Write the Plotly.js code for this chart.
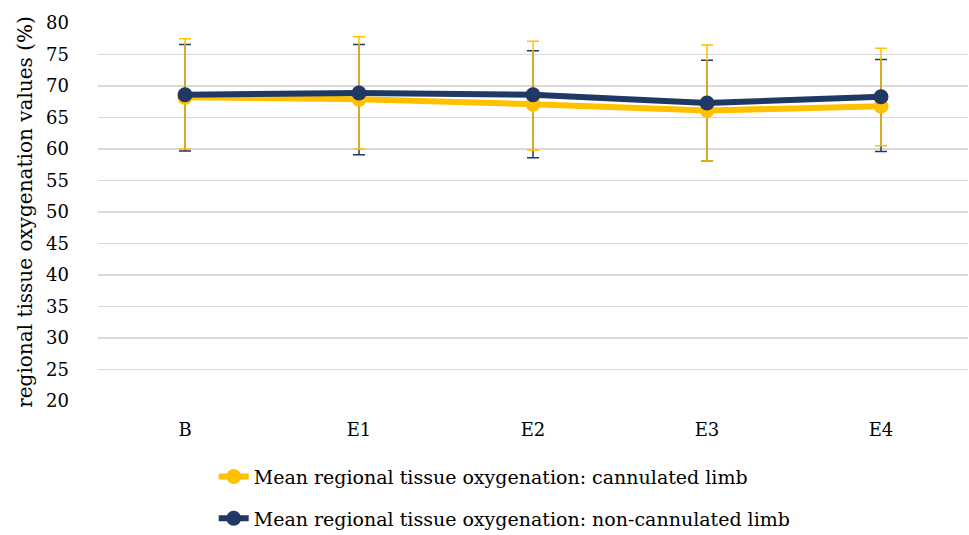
<!DOCTYPE html>
<html>
<head>
<meta charset="utf-8">
<script src="https://cdn.plot.ly/plotly-3.0.1.min.js"></script>
<style>html,body{margin:0;padding:0;background:#fff;}#chart{width:969px;height:535px;}</style>
</head>
<body>
<div id="chart"></div>
<script>
const categories = ['B', 'E1', 'E2', 'E3', 'E4'];
const cannulatedMean = [68.2, 67.9, 67.1, 66.1, 66.8];
const cannulatedUpper = [77.5, 77.8, 77.1, 76.5, 76.0];
const cannulatedLower = [60.0, 60.0, 59.8, 58.1, 60.5];
const nonCannulatedMean = [68.6, 68.9, 68.6, 67.3, 68.3];
const nonCannulatedUpper = [76.6, 76.6, 75.6, 74.1, 74.2];
const nonCannulatedLower = [59.7, 59.1, 58.6, 58.1, 59.6];
const yTicks = [20, 25, 30, 35, 40, 45, 50, 55, 60, 65, 70, 75, 80];

const YELLOW = '#FFC000';
const NAVY = '#1F3864';
const FONT = 'DejaVu Serif';

const diff = (a, b) => a.map((v, i) => v - b[i]);

const traces = [
  {
    x: categories, y: nonCannulatedMean, type: 'scatter', mode: 'lines',
    line: {width: 0, color: 'rgba(0,0,0,0)'}, showlegend: false, hoverinfo: 'skip',
    error_y: {type: 'data', symmetric: false,
      array: diff(nonCannulatedUpper, nonCannulatedMean),
      arrayminus: diff(nonCannulatedMean, nonCannulatedLower),
      color: NAVY, thickness: 1.5, width: 6}
  },
  {
    x: categories, y: cannulatedMean, type: 'scatter', mode: 'lines+markers',
    name: 'Mean regional tissue oxygenation: cannulated limb', legendgroup: 'a',
    line: {width: 6, color: YELLOW}, marker: {size: 15, color: YELLOW},
    error_y: {type: 'data', symmetric: false,
      array: diff(cannulatedUpper, cannulatedMean),
      arrayminus: diff(cannulatedMean, cannulatedLower),
      color: YELLOW, thickness: 1.5, width: 6}
  },
  {
    x: categories, y: nonCannulatedMean, type: 'scatter', mode: 'lines+markers',
    name: 'Mean regional tissue oxygenation: non-cannulated limb', legendgroup: 'b',
    line: {width: 6, color: NAVY}, marker: {size: 15, color: NAVY}
  }
];

const layout = {
  width: 969, height: 535,
  margin: {l: 98, r: 1, t: 23, b: 134, autoexpand: false},
  paper_bgcolor: '#fff', plot_bgcolor: '#fff',
  font: {family: FONT, size: 19, color: '#000'},
  showlegend: true,
  legend: {orientation: 'v', x: 0.133, xanchor: 'left', y: -0.15, yanchor: 'top',
    font: {family: FONT, size: 19, color: '#000'}, tracegroupgap: 14, bgcolor: 'rgba(0,0,0,0)'},
  xaxis: {type: 'category', range: [-0.5, 4.5], showgrid: false, zeroline: false, showline: false, ticks: '',
    ticklabelstandoff: 16, tickfont: {family: FONT, size: 18}, fixedrange: true},
  yaxis: {range: [20, 80], tickvals: yTicks, ticktext: yTicks.map(String),
    showgrid: true, gridcolor: '#d9d9d9', gridwidth: 1.5, zeroline: false, showline: false,
    ticks: '', ticklabelstandoff: 28, tickfont: {family: FONT, size: 18},
    title: {text: 'regional tissue oxygenation values (%)', font: {family: FONT, size: 20}, standoff: 8},
    fixedrange: true}
};

Plotly.newPlot('chart', traces, layout, {displayModeBar: false, staticPlot: true});
</script>
</body>
</html>
